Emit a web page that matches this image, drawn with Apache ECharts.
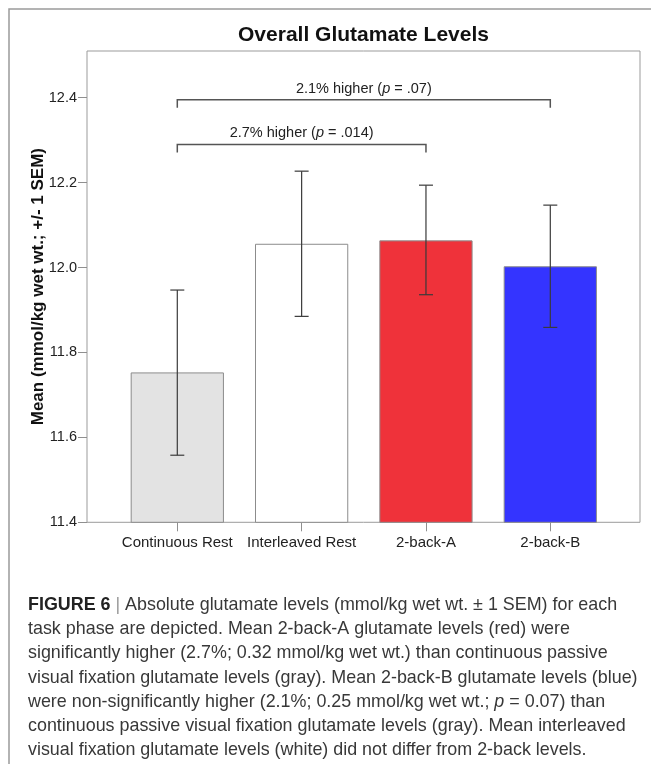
<!DOCTYPE html>
<html>
<head>
<meta charset="utf-8">
<script src="https://cdn.jsdelivr.net/npm/echarts@6/dist/echarts.min.js"></script>
<style>
  html, body { margin: 0; padding: 0; background: #ffffff; }
  #chart { width: 651px; height: 764px; }
</style>
</head>
<body>
<div id="chart"></div>
<script>
// ---- data ----
const categories = ['Continuous Rest', 'Interleaved Rest', '2-back-A', '2-back-B'];
const means = [11.753, 12.056, 12.064, 12.003];
const errLower = [11.558, 11.885, 11.936, 11.859];
const errUpper = [11.947, 12.227, 12.194, 12.147];
const barColors = ['#e3e3e3', '#ffffff', '#ef323a', '#3434ff'];
const yTickLabels = [11.4, 11.6, 11.8, 12.0, 12.2, 12.4];
const yTop = 12.51;
const bracketFrom = [0, 0];
const bracketTo = [3, 2];
const bracketLevel = [12.395, 12.29];
const bracketPct = ['2.1%', '2.7%'];
const bracketP = ['.07', '.014'];
const titleText = 'Overall Glutamate Levels';
const yName = 'Mean (mmol/kg wet wt.; +/- 1 SEM)';
const captionLines = [
  '{b|FIGURE 6}{bar| | }{n|Absolute glutamate levels (mmol/kg wet wt. \u00b1 1 SEM) for each}',
  '{n|task phase are depicted. Mean 2-back-A glutamate levels (red) were}',
  '{n|significantly higher (2.7%; 0.32 mmol/kg wet wt.) than continuous passive}',
  '{n|visual fixation glutamate levels (gray). Mean 2-back-B glutamate levels (blue)}',
  '{n|were non-significantly higher (2.1%; 0.25 mmol/kg wet wt.; }{i|p}{n| = 0.07) than}',
  '{n|continuous passive visual fixation glutamate levels (gray). Mean interleaved}',
  '{n|visual fixation glutamate levels (white) did not differ from 2-back levels.}'
];

// ---- layout ----
const FONT = '"Liberation Sans", Arial, sans-serif';
const plotLeft = 87, plotRight = 640, plotTop = 51, plotBottom = 522.3;
const bandCount = categories.length;
const firstCenter = 177.3, lastCenter = 550.3;
const band = (lastCenter - firstCenter) / (bandCount - 1);
const barGridLeft = firstCenter - band / 2;
const pxPerUnit = (plotBottom - plotTop) / (yTop - yTickLabels[0]);
const tickGridTop = plotBottom - (yTickLabels[yTickLabels.length - 1] - yTickLabels[0]) * pxPerUnit;

const chart = echarts.init(document.getElementById('chart'), null, { renderer: 'canvas' });

const capHalf = 7;
const CAP_FS = 17.9;
const captionGraphics = captionLines.map((t, i) => ({
  type: 'text',
  x: 28,
  y: 605 + i * 24.2,
  silent: true,
  style: {
    text: t,
    verticalAlign: 'middle',
    rich: {
      n: { fontSize: CAP_FS, fontFamily: FONT, fill: '#383838' },
      i: { fontSize: CAP_FS, fontFamily: FONT, fontStyle: 'italic', fill: '#383838' },
      b: { fontSize: CAP_FS, fontFamily: FONT, fontWeight: 'bold', fill: '#222222' },
      bar: { fontSize: CAP_FS, fontFamily: FONT, fill: '#999999' }
    }
  }
}));

const option = {
  animation: false,
  backgroundColor: '#ffffff',
  grid: [
    { left: plotLeft, top: plotTop, width: plotRight - plotLeft, height: plotBottom - plotTop,
      show: true, borderColor: '#9b9b9b', borderWidth: 1, backgroundColor: 'transparent' },
    { left: barGridLeft, top: plotTop, width: band * bandCount, height: plotBottom - plotTop },
    { left: plotLeft, top: tickGridTop, width: plotRight - plotLeft, height: plotBottom - tickGridTop }
  ],
  xAxis: [
    { gridIndex: 0, type: 'value', show: false, min: 0, max: 1 },
    { gridIndex: 1, type: 'category', data: categories,
      axisLine: { show: false },
      axisTick: { show: true, interval: 0, alignWithLabel: true, length: 9, lineStyle: { color: '#8f8f8f' } },
      axisLabel: { interval: 0, margin: 13, fontSize: 15, fontFamily: FONT, color: '#222222', hideOverlap: false },
      splitLine: { show: false } },
    { gridIndex: 2, type: 'value', show: false, min: 0, max: 1 }
  ],
  yAxis: [
    { gridIndex: 0, type: 'value', min: 0, max: 1,
      axisLine: { show: false }, axisTick: { show: false }, axisLabel: { show: false }, splitLine: { show: false },
      name: yName, nameLocation: 'middle', nameRotate: 90, nameGap: 40,
      nameTextStyle: { fontSize: 17, fontWeight: 'bold', fontFamily: FONT, color: '#111111' } },
    { gridIndex: 1, type: 'value', show: false, min: yTickLabels[0], max: yTop, splitLine: { show: false } },
    { gridIndex: 2, type: 'value', min: yTickLabels[0], max: yTickLabels[yTickLabels.length - 1], interval: 0.2,
      axisLine: { show: false },
      axisTick: { show: true, length: 9, lineStyle: { color: '#8f8f8f' } },
      axisLabel: { margin: 10, fontSize: 14.5, fontFamily: FONT, color: '#222222',
        formatter: v => v.toFixed(1) },
      splitLine: { show: false } }
  ],
  series: [
    {
      type: 'bar', xAxisIndex: 1, yAxisIndex: 1, barWidth: '75%', clip: true,
      data: means.map((v, i) => ({
        value: v,
        itemStyle: { color: barColors[i], borderColor: '#8c8c8c', borderWidth: 1 }
      }))
    },
    {
      type: 'custom', xAxisIndex: 1, yAxisIndex: 1, z: 5,
      data: categories.map((c, i) => [i, errLower[i], errUpper[i]]),
      renderItem: (params, api) => {
        const lo = api.coord([api.value(0), api.value(1)]);
        const hi = api.coord([api.value(0), api.value(2)]);
        const st = { stroke: '#3a3a3a', lineWidth: 1.2 };
        return { type: 'group', children: [
          { type: 'line', shape: { x1: lo[0], y1: lo[1], x2: hi[0], y2: hi[1] }, style: st },
          { type: 'line', shape: { x1: lo[0] - capHalf, y1: lo[1], x2: lo[0] + capHalf, y2: lo[1] }, style: st },
          { type: 'line', shape: { x1: hi[0] - capHalf, y1: hi[1], x2: hi[0] + capHalf, y2: hi[1] }, style: st }
        ] };
      }
    },
    {
      type: 'custom', xAxisIndex: 1, yAxisIndex: 1, z: 6,
      data: bracketFrom.map((f, i) => [f, bracketTo[i], bracketLevel[i], i]),
      renderItem: (params, api) => {
        const i = api.value(3);
        const p1 = api.coord([api.value(0), api.value(2)]);
        const p2 = api.coord([api.value(1), api.value(2)]);
        const drop = 8;
        return { type: 'group', children: [
          { type: 'polyline', shape: { points: [[p1[0], p1[1] + drop], [p1[0], p1[1]], [p2[0], p2[1]], [p2[0], p2[1] + drop]] },
            style: { stroke: '#555555', lineWidth: 1.5, fill: null } },
          { type: 'text', x: (p1[0] + p2[0]) / 2, y: p1[1] - 11,
            style: {
              text: '{n|' + bracketPct[i] + ' higher (}{i|p}{n| = ' + bracketP[i] + ')}',
              align: 'center', verticalAlign: 'middle',
              rich: {
                n: { fontSize: 14.5, fontFamily: FONT, fill: '#222222' },
                i: { fontSize: 14.5, fontFamily: FONT, fontStyle: 'italic', fill: '#222222' }
              }
            } }
        ] };
      }
    }
  ],
  graphic: [
    { type: 'polyline', silent: true,
      shape: { points: [[9, 764], [9, 9], [651, 9]] },
      style: { stroke: '#9b9b9b', lineWidth: 1.5, fill: null } },
    { type: 'text', x: (plotLeft + plotRight) / 2, y: 35, silent: true,
      style: { text: titleText, align: 'center', verticalAlign: 'middle',
        fontSize: 21, fontWeight: 'bold', fontFamily: FONT, fill: '#111111' } }
  ].concat(captionGraphics)
};

chart.setOption(option);
</script>
</body>
</html>
